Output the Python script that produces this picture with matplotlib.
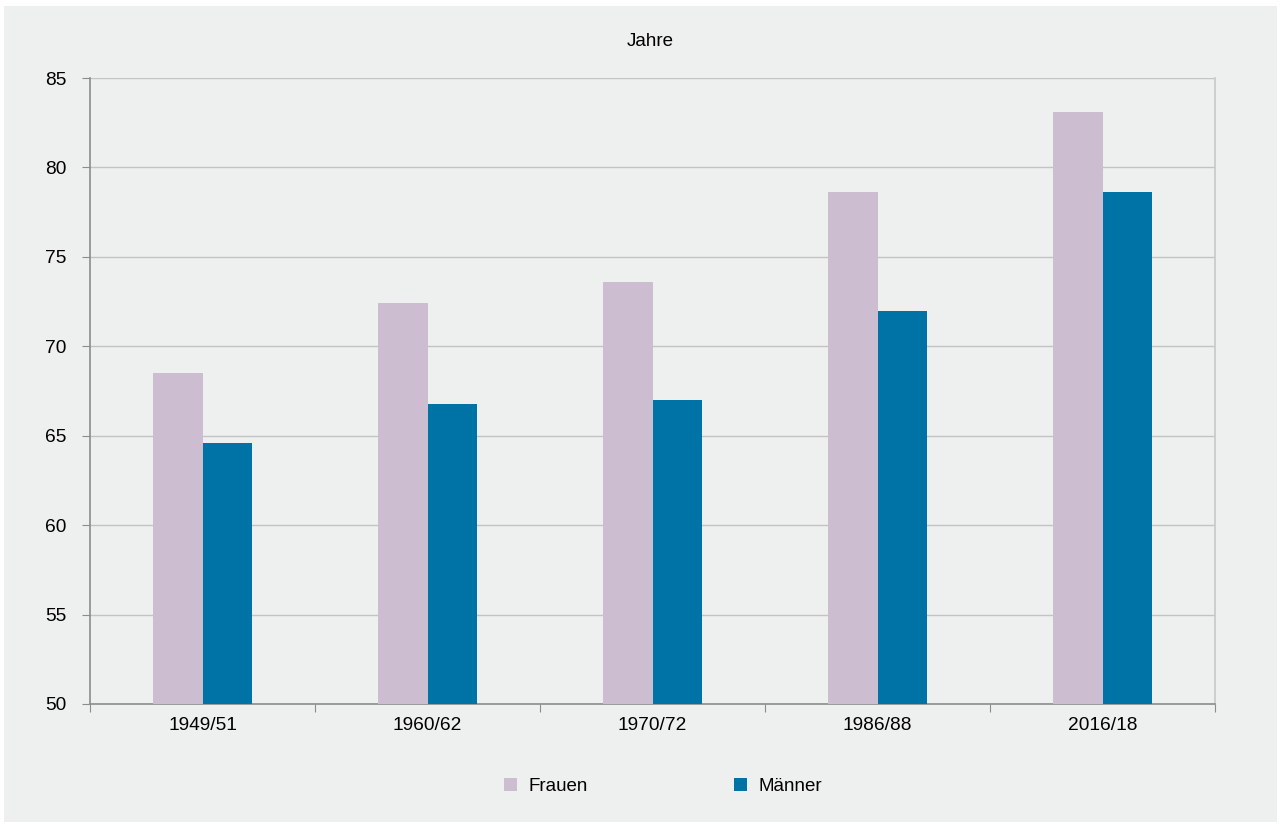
import matplotlib
matplotlib.use("Agg")
import matplotlib.pyplot as plt
import numpy as np

# Lebenserwartung bei Geburt, in Jahren
perioden = ['1949/51', '1960/62', '1970/72', '1986/88', '2016/18']
frauen = [68.5, 72.4, 73.6, 78.6, 83.1]
maenner = [64.6, 66.8, 67.0, 72.0, 78.6]

plt.rcParams['font.family'] = ['Liberation Sans', 'DejaVu Sans']

bg = '#eef0ef'
col_f = '#cdbdd1'
col_m = '#0073a6'

fig = plt.figure(figsize=(12.81, 8.25), dpi=100)
fig.patch.set_facecolor('white')
# grey panel with thin white margin
fig.patches.append(plt.Rectangle((4 / 1281, 3 / 825), 1273 / 1281, 816 / 825,
                                 transform=fig.transFigure, facecolor=bg,
                                 edgecolor='none', zorder=-10))

ax = fig.add_axes([90 / 1281, 1 - 704 / 825, 1125 / 1281, 626 / 825])
ax.set_facecolor(bg)

x = np.arange(len(perioden))
w = 0.222
ax.bar(x - w / 2, frauen, width=w, color=col_f, label='Frauen', zorder=3)
ax.bar(x + w / 2, maenner, width=w, color=col_m, label='Männer', zorder=3)

ax.set_xlim(-0.5, len(perioden) - 0.5)
ax.set_ylim(50, 85)
ax.set_yticks(range(50, 86, 5))
ax.yaxis.grid(True, color='#c3c3c3', linewidth=1, zorder=0)
ax.set_axisbelow(True)

# category boundaries as ticks, labels in the middle
ax.set_xticks(np.arange(-0.5, len(perioden), 1.0))
ax.set_xticklabels([])
ax.set_xticks(x, minor=True)
ax.set_xticklabels(perioden, minor=True)
ax.tick_params(axis='x', which='minor', length=0, pad=9, labelsize=13.8)
ax.tick_params(axis='x', which='major', length=6, color='#8c8c8c')
ax.tick_params(axis='y', length=6, color='#8c8c8c', labelsize=13.8, pad=11)

for s in ['left', 'bottom']:
    ax.spines[s].set_color('#8c8c8c')
    ax.spines[s].set_linewidth(1.2)
ax.spines['top'].set_visible(False)
ax.spines['right'].set_color('#c8c8c8')
ax.spines['right'].set_linewidth(1.2)

fig.text(650 / 1281, 1 - 42 / 825, 'Jahre', ha='center', va='center', fontsize=13.5)

ax.legend(loc='center', bbox_to_anchor=(0.509, -0.132), ncol=2, frameon=False,
          fontsize=13.5, handlelength=0.7, handleheight=0.7, columnspacing=7.8,
          handletextpad=0.6)

fig.savefig('out.png', dpi=100, facecolor=fig.get_facecolor())
